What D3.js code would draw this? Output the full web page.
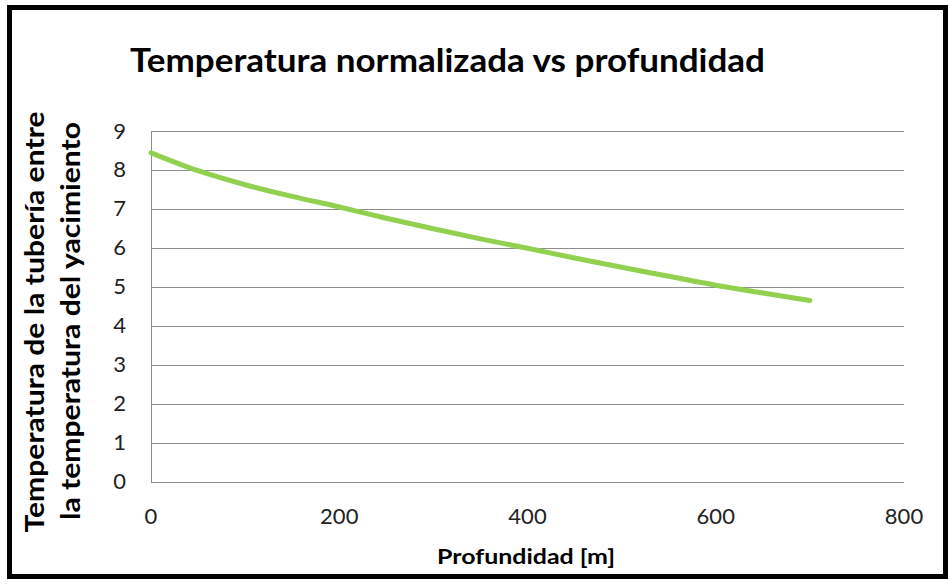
<!DOCTYPE html>
<html><head><meta charset="utf-8">
<script src="https://cdn.jsdelivr.net/npm/d3@7"></script>
<style>body{margin:0;background:#fff;} svg{display:block;} text{font-family:Lato,"Open Sans",sans-serif;}</style>
</head><body>
<svg id="c" width="949" height="584"></svg>
<script>
const depth = [0,50,100,150,200,250,300,350,400,450,500,550,600,650,700];
const temp  = [8.44,7.98,7.62,7.32,7.05,6.76,6.49,6.23,5.99,5.74,5.50,5.27,5.04,4.84,4.65];
const xTicks = [0,200,400,600,800];
const yTicks = [0,1,2,3,4,5,6,7,8,9];
const title = "Temperatura normalizada vs profundidad";
const xTitle = "Profundidad [m]";
const yTitle = ["Temperatura de la tubería entre","la temperatura del yacimiento"];

const svg = d3.select("#c");
svg.append("rect").attr("x",9.5).attr("y",7.5).attr("width",936).attr("height",569)
  .attr("fill","#fff").attr("stroke","#000").attr("stroke-width",5);

const x = d3.scaleLinear().domain([0,800]).range([151,904]);
const y = d3.scaleLinear().domain([0,9]).range([481.5,131]);

// gridlines
svg.append("g").selectAll("line").data(yTicks).join("line")
  .attr("x1",151).attr("x2",904)
  .attr("y1",d=>Math.round(y(d))+0.5).attr("y2",d=>Math.round(y(d))+0.5)
  .attr("stroke","#8e8e8e").attr("stroke-width",1);
svg.append("line").attr("x1",151.5).attr("x2",151.5).attr("y1",y(9)).attr("y2",y(0)+0.5)
  .attr("stroke","#8e8e8e").attr("stroke-width",1);

// y tick labels
svg.append("g").selectAll("text").data(yTicks).join("text")
  .attr("x",126).attr("y",d=>y(d)+7.5).attr("text-anchor","end")
  .attr("font-size",22).attr("fill","#222").text(d=>d);
// x tick labels
svg.append("g").selectAll("text").data(xTicks).join("text")
  .attr("x",d=>x(d)).attr("y",524).attr("text-anchor","middle")
  .attr("font-size",22).attr("fill","#222").text(d=>d);

// line
const line = d3.line().x((d,i)=>x(depth[i])).y(d=>y(d)).curve(d3.curveMonotoneX);
svg.append("path").datum(temp).attr("d",line).attr("fill","none")
  .attr("stroke","#92d050").attr("stroke-width",5).attr("stroke-linecap","round");

// title
svg.append("text").attr("x",130).attr("y",72).attr("font-size",32).attr("font-weight","bold")
  .attr("textLength",635).attr("lengthAdjust","spacingAndGlyphs").text(title);
// x title
svg.append("text").attr("x",437).attr("y",564).attr("font-size",20).attr("font-weight","bold")
  .attr("textLength",178).attr("lengthAdjust","spacingAndGlyphs").text(xTitle);
// y title
const yl = [{t:yTitle[0],bx:44,len:421,c:322},{t:yTitle[1],bx:80,len:398,c:321}];
yl.forEach(o=>{
  svg.append("text").attr("transform",`translate(${o.bx},${o.c}) rotate(-90)`)
    .attr("text-anchor","middle").attr("font-size",26).attr("font-weight","bold")
    .attr("textLength",o.len).attr("lengthAdjust","spacingAndGlyphs").text(o.t);
});
</script>
</body></html>
